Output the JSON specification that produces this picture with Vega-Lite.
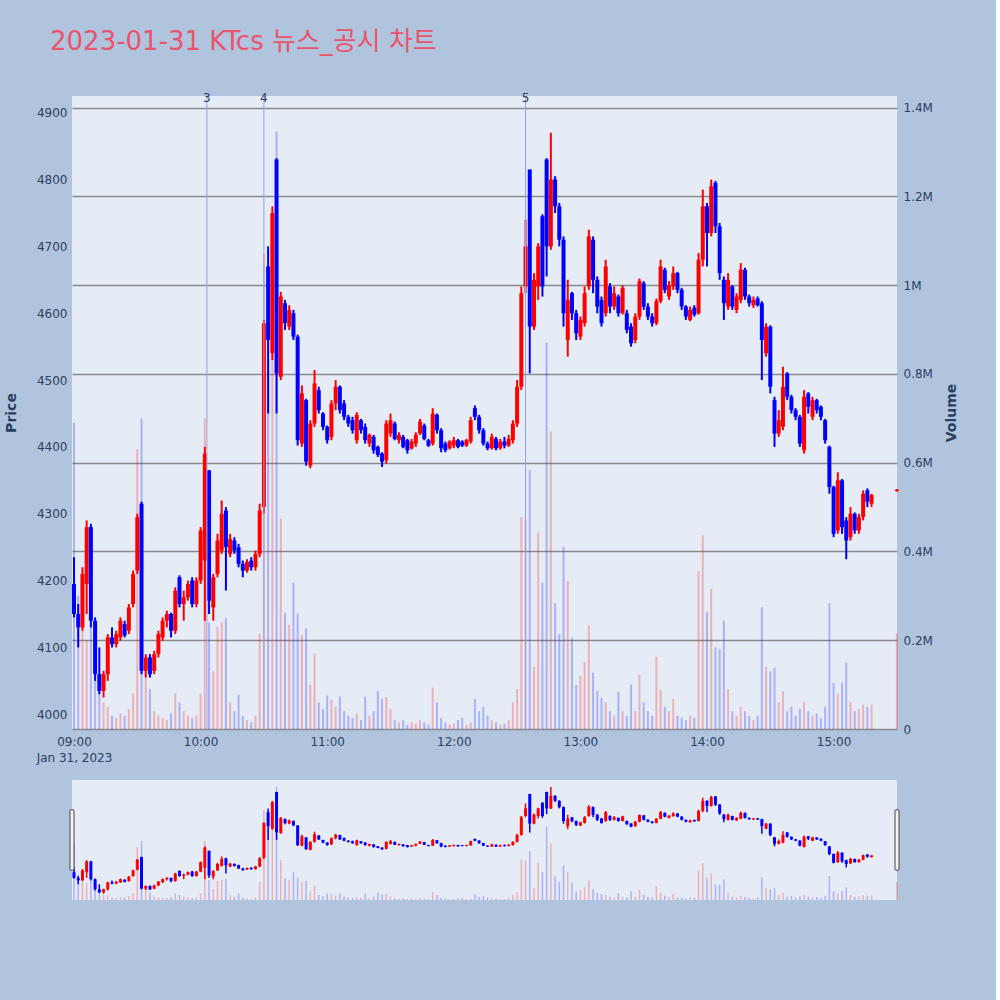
{
  "$schema": "https://vega.github.io/schema/vega-lite/v6.json",
  "background": "#b0c4de",
  "padding": {"left": 4, "top": 29, "right": 37, "bottom": 100},
  "config": {"view": {"stroke": null, "fill": "#e5ecf6"}, "font": "DejaVu Sans"},
  "title": {"text": "2023-01-31 KTcs 뉴스_공시 차트", "anchor": "start", "frame": "group", "dx": -22, "offset": 37, "font": "DejaVu Sans, Noto Sans CJK KR", "fontSize": 26, "fontWeight": "normal", "color": "#e9546b"},
  "spacing": 51,
  "bounds": "flush",
  "datasets": {
    "ann": [
      {"t": "2023-01-31T10:03", "n": "3"},
      {"t": "2023-01-31T10:30", "n": "4"},
      {"t": "2023-01-31T12:34", "n": "5"}
    ],
    "k": [
      {"t":"2023-01-31T09:00","o":4195,"h":4235,"l":4145,"c":4150,"v":690000},
      {"t":"2023-01-31T09:02","o":4150,"h":4165,"l":4100,"c":4130,"v":300000},
      {"t":"2023-01-31T09:04","o":4130,"h":4220,"l":4125,"c":4210,"v":230000},
      {"t":"2023-01-31T09:06","o":4195,"h":4290,"l":4150,"c":4280,"v":200000},
      {"t":"2023-01-31T09:08","o":4280,"h":4285,"l":4130,"c":4140,"v":250000},
      {"t":"2023-01-31T09:10","o":4140,"h":4145,"l":4050,"c":4060,"v":130000},
      {"t":"2023-01-31T09:12","o":4060,"h":4100,"l":4030,"c":4035,"v":100000},
      {"t":"2023-01-31T09:14","o":4035,"h":4065,"l":4025,"c":4060,"v":60000},
      {"t":"2023-01-31T09:16","o":4060,"h":4120,"l":4050,"c":4115,"v":50000},
      {"t":"2023-01-31T09:18","o":4115,"h":4130,"l":4100,"c":4105,"v":30000},
      {"t":"2023-01-31T09:20","o":4105,"h":4125,"l":4100,"c":4120,"v":25000},
      {"t":"2023-01-31T09:22","o":4115,"h":4145,"l":4110,"c":4140,"v":35000},
      {"t":"2023-01-31T09:24","o":4135,"h":4140,"l":4115,"c":4118,"v":30000},
      {"t":"2023-01-31T09:26","o":4125,"h":4165,"l":4120,"c":4160,"v":45000},
      {"t":"2023-01-31T09:28","o":4165,"h":4215,"l":4160,"c":4210,"v":80000},
      {"t":"2023-01-31T09:30","o":4215,"h":4300,"l":4210,"c":4295,"v":630000},
      {"t":"2023-01-31T09:32","o":4315,"h":4318,"l":4060,"c":4065,"v":700000},
      {"t":"2023-01-31T09:34","o":4065,"h":4090,"l":4055,"c":4085,"v":150000},
      {"t":"2023-01-31T09:36","o":4085,"h":4090,"l":4055,"c":4060,"v":90000},
      {"t":"2023-01-31T09:38","o":4065,"h":4095,"l":4060,"c":4090,"v":40000},
      {"t":"2023-01-31T09:40","o":4090,"h":4125,"l":4085,"c":4120,"v":30000},
      {"t":"2023-01-31T09:42","o":4115,"h":4145,"l":4110,"c":4140,"v":25000},
      {"t":"2023-01-31T09:44","o":4140,"h":4155,"l":4130,"c":4150,"v":20000},
      {"t":"2023-01-31T09:46","o":4150,"h":4152,"l":4115,"c":4125,"v":35000},
      {"t":"2023-01-31T09:48","o":4125,"h":4190,"l":4120,"c":4185,"v":80000},
      {"t":"2023-01-31T09:50","o":4205,"h":4208,"l":4160,"c":4165,"v":60000},
      {"t":"2023-01-31T09:52","o":4165,"h":4185,"l":4140,"c":4175,"v":40000},
      {"t":"2023-01-31T09:54","o":4175,"h":4200,"l":4170,"c":4195,"v":30000},
      {"t":"2023-01-31T09:56","o":4200,"h":4205,"l":4160,"c":4165,"v":25000},
      {"t":"2023-01-31T09:58","o":4165,"h":4205,"l":4160,"c":4200,"v":30000},
      {"t":"2023-01-31T10:00","o":4200,"h":4280,"l":4195,"c":4275,"v":80000},
      {"t":"2023-01-31T10:02","o":4230,"h":4400,"l":4140,"c":4390,"v":700000},
      {"t":"2023-01-31T10:04","o":4365,"h":4365,"l":4150,"c":4170,"v":240000},
      {"t":"2023-01-31T10:06","o":4160,"h":4210,"l":4140,"c":4205,"v":130000},
      {"t":"2023-01-31T10:08","o":4210,"h":4270,"l":4205,"c":4260,"v":230000},
      {"t":"2023-01-31T10:10","o":4245,"h":4320,"l":4240,"c":4300,"v":240000},
      {"t":"2023-01-31T10:12","o":4305,"h":4310,"l":4185,"c":4250,"v":250000},
      {"t":"2023-01-31T10:14","o":4240,"h":4270,"l":4235,"c":4262,"v":60000},
      {"t":"2023-01-31T10:16","o":4260,"h":4265,"l":4240,"c":4245,"v":40000},
      {"t":"2023-01-31T10:18","o":4250,"h":4255,"l":4220,"c":4225,"v":77000},
      {"t":"2023-01-31T10:20","o":4225,"h":4230,"l":4205,"c":4215,"v":30000},
      {"t":"2023-01-31T10:22","o":4215,"h":4232,"l":4212,"c":4228,"v":20000},
      {"t":"2023-01-31T10:24","o":4230,"h":4235,"l":4215,"c":4220,"v":15000},
      {"t":"2023-01-31T10:26","o":4220,"h":4245,"l":4215,"c":4240,"v":30000},
      {"t":"2023-01-31T10:28","o":4240,"h":4315,"l":4235,"c":4305,"v":215000},
      {"t":"2023-01-31T10:30","o":4310,"h":4590,"l":4300,"c":4585,"v":1070000},
      {"t":"2023-01-31T10:32","o":4670,"h":4700,"l":4450,"c":4560,"v":900000},
      {"t":"2023-01-31T10:34","o":4540,"h":4760,"l":4530,"c":4750,"v":1100000},
      {"t":"2023-01-31T10:36","o":4830,"h":4832,"l":4450,"c":4510,"v":1346000},
      {"t":"2023-01-31T10:38","o":4505,"h":4632,"l":4500,"c":4625,"v":474000},
      {"t":"2023-01-31T10:40","o":4615,"h":4620,"l":4575,"c":4585,"v":262000},
      {"t":"2023-01-31T10:42","o":4580,"h":4612,"l":4575,"c":4605,"v":235000},
      {"t":"2023-01-31T10:44","o":4600,"h":4605,"l":4560,"c":4565,"v":330000},
      {"t":"2023-01-31T10:46","o":4565,"h":4568,"l":4402,"c":4410,"v":260000},
      {"t":"2023-01-31T10:48","o":4405,"h":4492,"l":4400,"c":4480,"v":212000},
      {"t":"2023-01-31T10:50","o":4470,"h":4472,"l":4372,"c":4378,"v":227000},
      {"t":"2023-01-31T10:52","o":4372,"h":4440,"l":4368,"c":4435,"v":100000},
      {"t":"2023-01-31T10:54","o":4435,"h":4515,"l":4430,"c":4495,"v":170000},
      {"t":"2023-01-31T10:56","o":4485,"h":4490,"l":4450,"c":4455,"v":60000},
      {"t":"2023-01-31T10:58","o":4450,"h":4452,"l":4425,"c":4430,"v":45000},
      {"t":"2023-01-31T11:00","o":4430,"h":4432,"l":4405,"c":4410,"v":75000},
      {"t":"2023-01-31T11:02","o":4415,"h":4470,"l":4410,"c":4465,"v":66000},
      {"t":"2023-01-31T11:04","o":4465,"h":4500,"l":4455,"c":4490,"v":50000},
      {"t":"2023-01-31T11:06","o":4490,"h":4492,"l":4450,"c":4455,"v":73000},
      {"t":"2023-01-31T11:08","o":4465,"h":4470,"l":4440,"c":4445,"v":40000},
      {"t":"2023-01-31T11:10","o":4445,"h":4448,"l":4430,"c":4435,"v":30000},
      {"t":"2023-01-31T11:12","o":4440,"h":4445,"l":4420,"c":4425,"v":25000},
      {"t":"2023-01-31T11:14","o":4410,"h":4452,"l":4405,"c":4448,"v":35000},
      {"t":"2023-01-31T11:16","o":4440,"h":4442,"l":4420,"c":4425,"v":20000},
      {"t":"2023-01-31T11:18","o":4430,"h":4435,"l":4405,"c":4410,"v":73000},
      {"t":"2023-01-31T11:20","o":4405,"h":4420,"l":4400,"c":4418,"v":30000},
      {"t":"2023-01-31T11:22","o":4415,"h":4418,"l":4390,"c":4395,"v":40000},
      {"t":"2023-01-31T11:24","o":4400,"h":4402,"l":4385,"c":4388,"v":85000},
      {"t":"2023-01-31T11:26","o":4390,"h":4392,"l":4370,"c":4378,"v":67000},
      {"t":"2023-01-31T11:28","o":4380,"h":4440,"l":4375,"c":4435,"v":72000},
      {"t":"2023-01-31T11:30","o":4420,"h":4450,"l":4415,"c":4440,"v":45000},
      {"t":"2023-01-31T11:32","o":4435,"h":4438,"l":4410,"c":4412,"v":20000},
      {"t":"2023-01-31T11:34","o":4410,"h":4422,"l":4405,"c":4418,"v":15000},
      {"t":"2023-01-31T11:36","o":4415,"h":4418,"l":4398,"c":4400,"v":20000},
      {"t":"2023-01-31T11:38","o":4410,"h":4412,"l":4390,"c":4395,"v":10000},
      {"t":"2023-01-31T11:40","o":4398,"h":4412,"l":4396,"c":4408,"v":15000},
      {"t":"2023-01-31T11:42","o":4405,"h":4422,"l":4400,"c":4418,"v":12000},
      {"t":"2023-01-31T11:44","o":4420,"h":4442,"l":4418,"c":4438,"v":20000},
      {"t":"2023-01-31T11:46","o":4432,"h":4435,"l":4410,"c":4412,"v":15000},
      {"t":"2023-01-31T11:48","o":4410,"h":4412,"l":4400,"c":4402,"v":10000},
      {"t":"2023-01-31T11:50","o":4405,"h":4458,"l":4402,"c":4450,"v":93000},
      {"t":"2023-01-31T11:52","o":4448,"h":4450,"l":4420,"c":4425,"v":60000},
      {"t":"2023-01-31T11:54","o":4425,"h":4428,"l":4392,"c":4398,"v":25000},
      {"t":"2023-01-31T11:56","o":4405,"h":4408,"l":4392,"c":4395,"v":15000},
      {"t":"2023-01-31T11:58","o":4398,"h":4410,"l":4396,"c":4408,"v":10000},
      {"t":"2023-01-31T12:00","o":4402,"h":4415,"l":4398,"c":4410,"v":12000},
      {"t":"2023-01-31T12:02","o":4410,"h":4412,"l":4398,"c":4400,"v":20000},
      {"t":"2023-01-31T12:04","o":4408,"h":4410,"l":4400,"c":4402,"v":25000},
      {"t":"2023-01-31T12:06","o":4402,"h":4412,"l":4400,"c":4410,"v":10000},
      {"t":"2023-01-31T12:08","o":4408,"h":4445,"l":4405,"c":4440,"v":15000},
      {"t":"2023-01-31T12:10","o":4458,"h":4462,"l":4440,"c":4445,"v":67000},
      {"t":"2023-01-31T12:12","o":4445,"h":4448,"l":4420,"c":4425,"v":40000},
      {"t":"2023-01-31T12:14","o":4425,"h":4428,"l":4402,"c":4405,"v":50000},
      {"t":"2023-01-31T12:16","o":4405,"h":4408,"l":4395,"c":4398,"v":30000},
      {"t":"2023-01-31T12:18","o":4398,"h":4420,"l":4396,"c":4415,"v":20000},
      {"t":"2023-01-31T12:20","o":4412,"h":4415,"l":4395,"c":4398,"v":15000},
      {"t":"2023-01-31T12:22","o":4398,"h":4412,"l":4396,"c":4408,"v":10000},
      {"t":"2023-01-31T12:24","o":4408,"h":4415,"l":4398,"c":4402,"v":12000},
      {"t":"2023-01-31T12:26","o":4402,"h":4418,"l":4400,"c":4412,"v":20000},
      {"t":"2023-01-31T12:28","o":4410,"h":4440,"l":4405,"c":4435,"v":60000},
      {"t":"2023-01-31T12:30","o":4435,"h":4500,"l":4430,"c":4490,"v":90000},
      {"t":"2023-01-31T12:32","o":4490,"h":4640,"l":4485,"c":4630,"v":477000},
      {"t":"2023-01-31T12:34","o":4640,"h":4740,"l":4630,"c":4700,"v":472000},
      {"t":"2023-01-31T12:36","o":4815,"h":4815,"l":4510,"c":4580,"v":583000},
      {"t":"2023-01-31T12:38","o":4580,"h":4660,"l":4575,"c":4650,"v":140000},
      {"t":"2023-01-31T12:40","o":4640,"h":4705,"l":4620,"c":4700,"v":443000},
      {"t":"2023-01-31T12:42","o":4745,"h":4748,"l":4625,"c":4640,"v":330000},
      {"t":"2023-01-31T12:44","o":4830,"h":4832,"l":4655,"c":4700,"v":870000},
      {"t":"2023-01-31T12:46","o":4700,"h":4870,"l":4695,"c":4800,"v":670000},
      {"t":"2023-01-31T12:48","o":4800,"h":4805,"l":4750,"c":4760,"v":283000},
      {"t":"2023-01-31T12:50","o":4760,"h":4765,"l":4700,"c":4710,"v":214000},
      {"t":"2023-01-31T12:52","o":4710,"h":4715,"l":4580,"c":4600,"v":410000},
      {"t":"2023-01-31T12:54","o":4560,"h":4650,"l":4535,"c":4620,"v":334000},
      {"t":"2023-01-31T12:56","o":4630,"h":4632,"l":4590,"c":4600,"v":206000},
      {"t":"2023-01-31T12:58","o":4600,"h":4605,"l":4560,"c":4570,"v":100000},
      {"t":"2023-01-31T13:00","o":4565,"h":4595,"l":4560,"c":4590,"v":120000},
      {"t":"2023-01-31T13:02","o":4585,"h":4640,"l":4580,"c":4630,"v":150000},
      {"t":"2023-01-31T13:04","o":4640,"h":4725,"l":4635,"c":4715,"v":233000},
      {"t":"2023-01-31T13:06","o":4710,"h":4715,"l":4630,"c":4650,"v":127000},
      {"t":"2023-01-31T13:08","o":4650,"h":4655,"l":4600,"c":4610,"v":85000},
      {"t":"2023-01-31T13:10","o":4620,"h":4625,"l":4580,"c":4585,"v":70000},
      {"t":"2023-01-31T13:12","o":4600,"h":4680,"l":4595,"c":4670,"v":60000},
      {"t":"2023-01-31T13:14","o":4640,"h":4645,"l":4600,"c":4610,"v":40000},
      {"t":"2023-01-31T13:16","o":4610,"h":4640,"l":4605,"c":4630,"v":30000},
      {"t":"2023-01-31T13:18","o":4625,"h":4628,"l":4595,"c":4600,"v":84000},
      {"t":"2023-01-31T13:20","o":4600,"h":4642,"l":4598,"c":4638,"v":40000},
      {"t":"2023-01-31T13:22","o":4600,"h":4605,"l":4570,"c":4575,"v":30000},
      {"t":"2023-01-31T13:24","o":4580,"h":4585,"l":4550,"c":4555,"v":100000},
      {"t":"2023-01-31T13:26","o":4560,"h":4600,"l":4555,"c":4595,"v":40000},
      {"t":"2023-01-31T13:28","o":4595,"h":4652,"l":4590,"c":4648,"v":122000},
      {"t":"2023-01-31T13:30","o":4645,"h":4648,"l":4605,"c":4610,"v":60000},
      {"t":"2023-01-31T13:32","o":4610,"h":4615,"l":4590,"c":4595,"v":40000},
      {"t":"2023-01-31T13:34","o":4595,"h":4600,"l":4580,"c":4585,"v":30000},
      {"t":"2023-01-31T13:36","o":4585,"h":4622,"l":4582,"c":4618,"v":163000},
      {"t":"2023-01-31T13:38","o":4618,"h":4680,"l":4615,"c":4670,"v":88000},
      {"t":"2023-01-31T13:40","o":4665,"h":4668,"l":4630,"c":4635,"v":50000},
      {"t":"2023-01-31T13:42","o":4625,"h":4648,"l":4620,"c":4642,"v":40000},
      {"t":"2023-01-31T13:44","o":4640,"h":4670,"l":4635,"c":4660,"v":68000},
      {"t":"2023-01-31T13:46","o":4660,"h":4662,"l":4630,"c":4635,"v":30000},
      {"t":"2023-01-31T13:48","o":4635,"h":4638,"l":4605,"c":4610,"v":25000},
      {"t":"2023-01-31T13:50","o":4610,"h":4612,"l":4590,"c":4595,"v":20000},
      {"t":"2023-01-31T13:52","o":4590,"h":4610,"l":4588,"c":4605,"v":30000},
      {"t":"2023-01-31T13:54","o":4608,"h":4612,"l":4595,"c":4598,"v":25000},
      {"t":"2023-01-31T13:56","o":4600,"h":4690,"l":4598,"c":4680,"v":355000},
      {"t":"2023-01-31T13:58","o":4680,"h":4785,"l":4670,"c":4760,"v":436000},
      {"t":"2023-01-31T14:00","o":4760,"h":4765,"l":4670,"c":4720,"v":263000},
      {"t":"2023-01-31T14:02","o":4720,"h":4800,"l":4715,"c":4790,"v":316000},
      {"t":"2023-01-31T14:04","o":4795,"h":4798,"l":4720,"c":4730,"v":184000},
      {"t":"2023-01-31T14:06","o":4730,"h":4735,"l":4650,"c":4660,"v":180000},
      {"t":"2023-01-31T14:08","o":4650,"h":4655,"l":4590,"c":4615,"v":244000},
      {"t":"2023-01-31T14:10","o":4610,"h":4660,"l":4605,"c":4650,"v":90000},
      {"t":"2023-01-31T14:12","o":4640,"h":4642,"l":4605,"c":4610,"v":40000},
      {"t":"2023-01-31T14:14","o":4605,"h":4630,"l":4600,"c":4625,"v":30000},
      {"t":"2023-01-31T14:16","o":4620,"h":4675,"l":4615,"c":4665,"v":50000},
      {"t":"2023-01-31T14:18","o":4665,"h":4668,"l":4620,"c":4625,"v":40000},
      {"t":"2023-01-31T14:20","o":4625,"h":4628,"l":4610,"c":4615,"v":30000},
      {"t":"2023-01-31T14:22","o":4612,"h":4625,"l":4608,"c":4620,"v":20000},
      {"t":"2023-01-31T14:24","o":4622,"h":4625,"l":4610,"c":4612,"v":30000},
      {"t":"2023-01-31T14:26","o":4615,"h":4618,"l":4500,"c":4560,"v":274000},
      {"t":"2023-01-31T14:28","o":4540,"h":4585,"l":4535,"c":4580,"v":140000},
      {"t":"2023-01-31T14:30","o":4580,"h":4582,"l":4480,"c":4490,"v":130000},
      {"t":"2023-01-31T14:32","o":4470,"h":4475,"l":4400,"c":4420,"v":138000},
      {"t":"2023-01-31T14:34","o":4420,"h":4455,"l":4415,"c":4440,"v":60000},
      {"t":"2023-01-31T14:36","o":4430,"h":4520,"l":4425,"c":4490,"v":85000},
      {"t":"2023-01-31T14:38","o":4510,"h":4512,"l":4470,"c":4475,"v":40000},
      {"t":"2023-01-31T14:40","o":4475,"h":4478,"l":4450,"c":4455,"v":50000},
      {"t":"2023-01-31T14:42","o":4455,"h":4458,"l":4440,"c":4445,"v":30000},
      {"t":"2023-01-31T14:44","o":4445,"h":4448,"l":4400,"c":4405,"v":45000},
      {"t":"2023-01-31T14:46","o":4395,"h":4485,"l":4390,"c":4475,"v":60000},
      {"t":"2023-01-31T14:48","o":4480,"h":4482,"l":4450,"c":4460,"v":40000},
      {"t":"2023-01-31T14:50","o":4445,"h":4475,"l":4440,"c":4470,"v":30000},
      {"t":"2023-01-31T14:52","o":4470,"h":4472,"l":4450,"c":4455,"v":35000},
      {"t":"2023-01-31T14:54","o":4460,"h":4462,"l":4440,"c":4445,"v":25000},
      {"t":"2023-01-31T14:56","o":4440,"h":4442,"l":4405,"c":4410,"v":50000},
      {"t":"2023-01-31T14:58","o":4400,"h":4402,"l":4330,"c":4340,"v":283000},
      {"t":"2023-01-31T15:00","o":4340,"h":4342,"l":4265,"c":4270,"v":103000},
      {"t":"2023-01-31T15:02","o":4275,"h":4362,"l":4270,"c":4350,"v":80000},
      {"t":"2023-01-31T15:04","o":4350,"h":4352,"l":4270,"c":4280,"v":105000},
      {"t":"2023-01-31T15:06","o":4290,"h":4295,"l":4232,"c":4260,"v":150000},
      {"t":"2023-01-31T15:08","o":4265,"h":4310,"l":4260,"c":4300,"v":60000},
      {"t":"2023-01-31T15:10","o":4300,"h":4302,"l":4270,"c":4275,"v":40000},
      {"t":"2023-01-31T15:12","o":4275,"h":4300,"l":4270,"c":4295,"v":45000},
      {"t":"2023-01-31T15:14","o":4295,"h":4335,"l":4290,"c":4330,"v":55000},
      {"t":"2023-01-31T15:16","o":4335,"h":4338,"l":4310,"c":4318,"v":50000},
      {"t":"2023-01-31T15:18","o":4315,"h":4330,"l":4310,"c":4328,"v":55000},
      {"t":"2023-01-31T15:30","o":4334,"h":4337,"l":4333,"c":4336,"v":215000}
    ]
  },
  "vconcat": [
    {
      "width": 825,
      "height": 633,
      "layer": [
        {
          "data": {"name": "k"},
          "mark": {"type": "bar", "width": 2, "opacity": 0.25},
          "encoding": {
            "x": {
              "field": "t", "type": "temporal",
              "scale": {"padding": 0, "domain": [{"year": 2023, "month": 1, "date": 31, "hours": 8, "minutes": 59, "seconds": 3}, {"year": 2023, "month": 1, "date": 31, "hours": 15, "minutes": 30, "seconds": 3}]},
              "axis": {
                "values": [
                  {"year": 2023, "month": 1, "date": 31, "hours": 9},
                  {"year": 2023, "month": 1, "date": 31, "hours": 10},
                  {"year": 2023, "month": 1, "date": 31, "hours": 11},
                  {"year": 2023, "month": 1, "date": 31, "hours": 12},
                  {"year": 2023, "month": 1, "date": 31, "hours": 13},
                  {"year": 2023, "month": 1, "date": 31, "hours": 14},
                  {"year": 2023, "month": 1, "date": 31, "hours": 15}
                ],
                "labelExpr": "hours(datum.value) == 9 ? ['09:00', 'Jan 31, 2023'] : timeFormat(datum.value, '%H:%M')",
                "title": null, "grid": false, "ticks": false, "domain": false,
                "labelFlush": false, "labelOverlap": false, "labelPadding": 7,
                "labelFontSize": 12, "labelColor": "#2a3f5f", "labelLineHeight": 16
              }
            },
            "y": {
              "field": "v", "type": "quantitative",
              "scale": {"domain": [0, 1426000], "nice": false, "zero": true},
              "axis": {
                "orient": "right", "title": "Volume",
                "values": [0, 200000, 400000, 600000, 800000, 1000000, 1200000, 1400000],
                "labelExpr": "datum.value == 0 ? '0' : format(datum.value / 1000000, '~g') + 'M'",
                "ticks": false, "domain": false, "labelPadding": 6,
                "labelFontSize": 12, "labelColor": "#2a3f5f",
                "gridColor": "#8a8a8a", "gridWidth": 1.3,
                "titleFontSize": 14, "titleFontWeight": "bold", "titleColor": "#2a3f5f",
                "titleAngle": 270, "titlePadding": 26
              }
            },
            "color": {"condition": {"test": "datum.c >= datum.o", "value": "#ff0000"}, "value": "#0000ff"}
          }
        },
        {
          "layer": [
            {
              "data": {"name": "k"},
              "mark": {"type": "rule", "strokeWidth": 2},
              "encoding": {
                "x": {"field": "t", "type": "temporal"},
                "y": {
                  "field": "l", "type": "quantitative",
                  "scale": {"domain": [3978, 4925], "nice": false, "zero": false},
                  "axis": {
                    "orient": "left", "title": "Price", "format": "d",
                    "values": [4000, 4100, 4200, 4300, 4400, 4500, 4600, 4700, 4800, 4900],
                    "ticks": false, "domain": false, "labelPadding": 5,
                    "labelFontSize": 12, "labelColor": "#2a3f5f",
                    "gridColor": "#ffffff", "gridWidth": 1.2,
                    "titleFontSize": 14, "titleFontWeight": "bold", "titleColor": "#2a3f5f",
                    "titlePadding": 18
                  }
                },
                "y2": {"field": "h"},
                "color": {"condition": {"test": "datum.c >= datum.o", "value": "#ff0000"}, "value": "#0000ff"}
              }
            },
            {
              "data": {"name": "k"},
              "mark": {"type": "bar", "width": 4},
              "encoding": {
                "x": {"field": "t", "type": "temporal"},
                "y": {"field": "o", "type": "quantitative"},
                "y2": {"field": "c"},
                "color": {"condition": {"test": "datum.c >= datum.o", "value": "#ff0000"}, "value": "#0000ff"}
              }
            },
            {
              "data": {"name": "ann"},
              "mark": {"type": "rule", "color": "#8fa5e8", "strokeWidth": 1},
              "encoding": {"x": {"field": "t", "type": "temporal"}}
            },
            {
              "data": {"name": "ann"},
              "mark": {"type": "text", "baseline": "middle", "align": "center", "fontSize": 12, "color": "#2a3f5f", "dy": 2},
              "encoding": {
                "x": {"field": "t", "type": "temporal"},
                "y": {"datum": 4925, "type": "quantitative"},
                "text": {"field": "n"}
              }
            }
          ]
        }
      ],
      "resolve": {"scale": {"y": "independent"}, "axis": {"y": "independent"}}
    },
    {
      "width": 825,
      "height": 120,
      "layer": [
        {
          "data": {"name": "k"},
          "mark": {"type": "bar", "width": 1.5, "opacity": 0.25},
          "encoding": {
            "x": {
              "field": "t", "type": "temporal", "axis": null,
              "scale": {"padding": 0, "domain": [{"year": 2023, "month": 1, "date": 31, "hours": 8, "minutes": 59, "seconds": 3}, {"year": 2023, "month": 1, "date": 31, "hours": 15, "minutes": 30, "seconds": 3}]}
            },
            "y": {"field": "v", "type": "quantitative", "axis": null, "scale": {"domain": [0, 1426000], "nice": false}},
            "color": {"condition": {"test": "datum.c >= datum.o", "value": "#ff0000"}, "value": "#0000ff"}
          }
        },
        {
          "layer": [
            {
              "data": {"name": "k"},
              "mark": {"type": "rule", "strokeWidth": 1.5},
              "encoding": {
                "x": {"field": "t", "type": "temporal"},
                "y": {"field": "l", "type": "quantitative", "axis": null, "scale": {"domain": [3975, 4925], "nice": false, "zero": false}},
                "y2": {"field": "h"},
                "color": {"condition": {"test": "datum.c >= datum.o", "value": "#ff0000"}, "value": "#0000ff"}
              }
            },
            {
              "data": {"name": "k"},
              "mark": {"type": "bar", "width": 3},
              "encoding": {
                "x": {"field": "t", "type": "temporal"},
                "y": {"field": "o", "type": "quantitative"},
                "y2": {"field": "c"},
                "color": {"condition": {"test": "datum.c >= datum.o", "value": "#ff0000"}, "value": "#0000ff"}
              }
            },
            {
              "data": {"values": [{"t": "2023-01-31T08:59:03"}, {"t": "2023-01-31T15:30:03"}]},
              "mark": {"type": "rect", "fill": "#f4f4f4", "stroke": "#444444", "strokeWidth": 1, "xOffset": -2, "x2Offset": 2, "cornerRadius": 1},
              "encoding": {
                "x": {"field": "t", "type": "temporal"},
                "x2": {"field": "t"},
                "y": {"datum": 4690},
                "y2": {"datum": 4210}
              }
            }
          ]
        }
      ],
      "resolve": {"scale": {"y": "independent"}}
    }
  ]
}
